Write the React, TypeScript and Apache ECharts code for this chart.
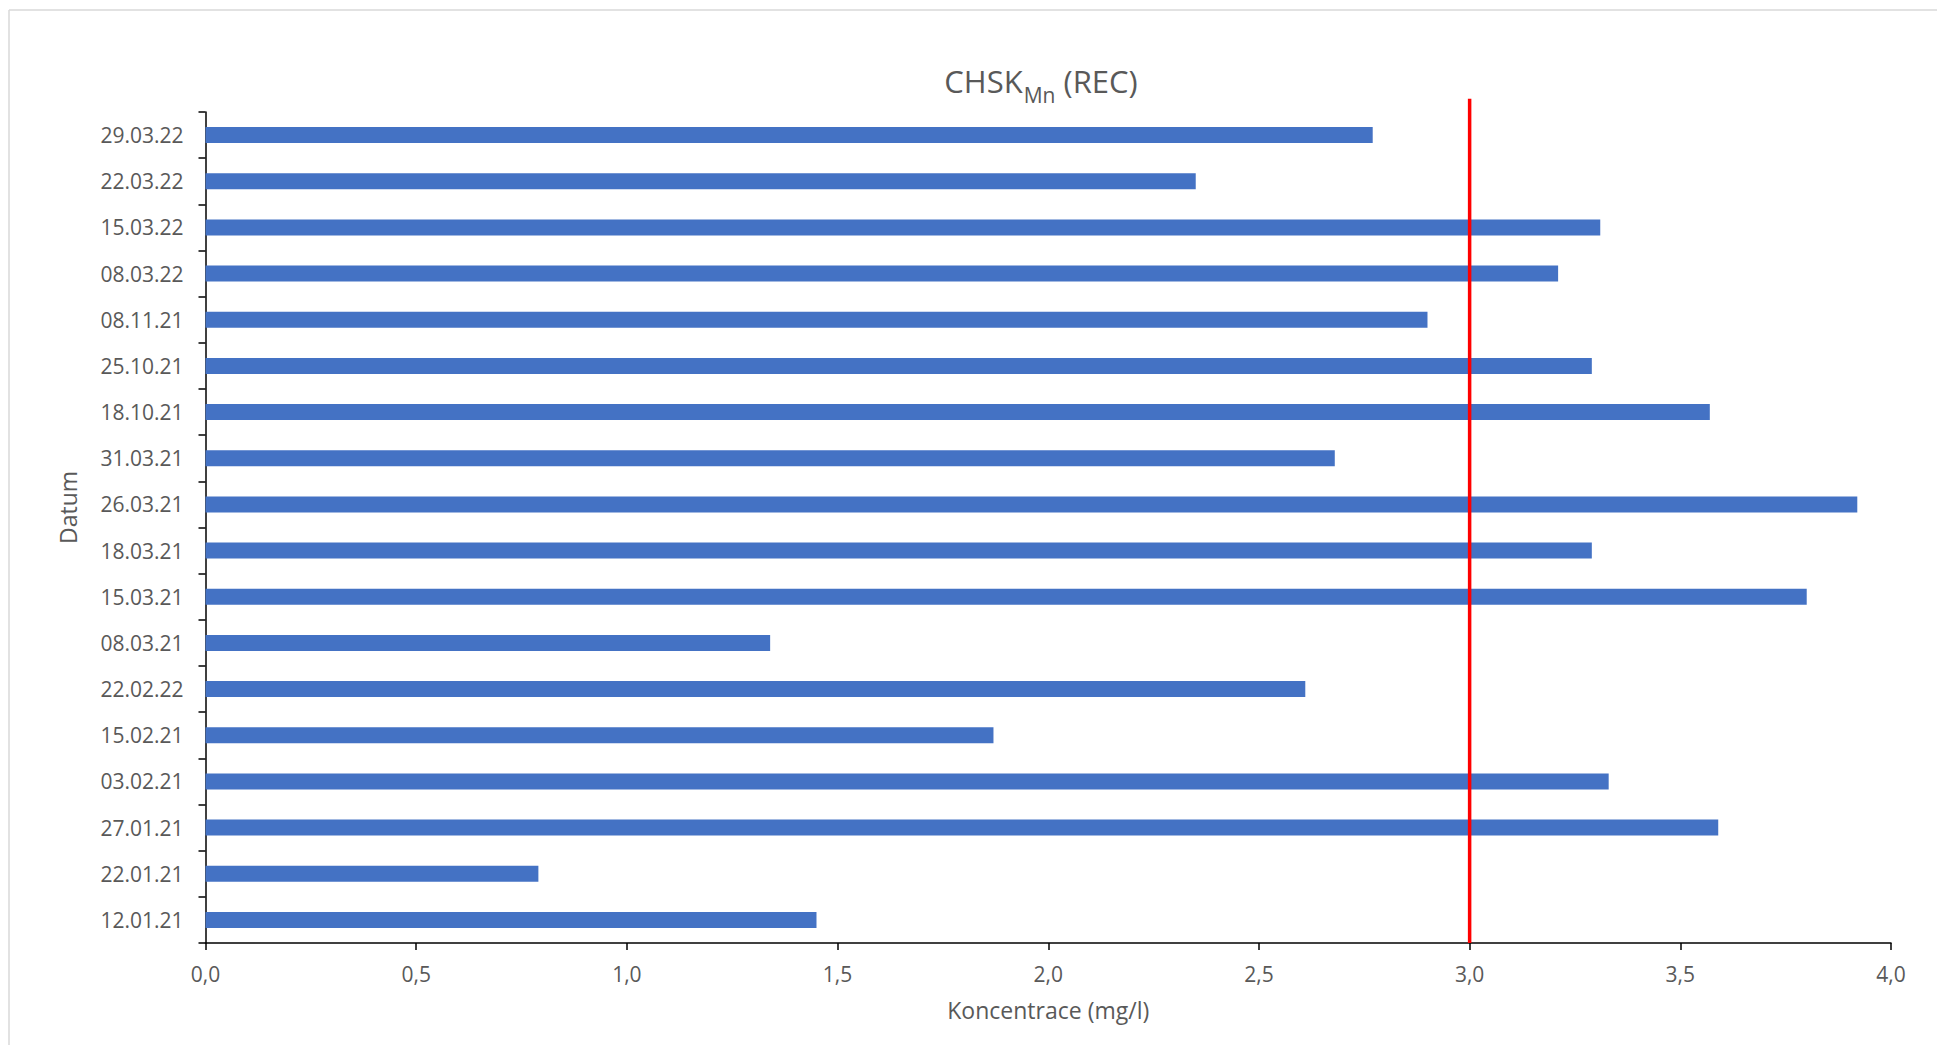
import React, { useEffect, useRef } from "react";
import * as echarts from "echarts";

// Categories listed bottom-to-top (ECharts category y-axis starts at the bottom)
const dates = [
  "12.01.21", "22.01.21", "27.01.21", "03.02.21", "15.02.21", "22.02.22",
  "08.03.21", "15.03.21", "18.03.21", "26.03.21", "31.03.21", "18.10.21",
  "25.10.21", "08.11.21", "08.03.22", "15.03.22", "22.03.22", "29.03.22",
];
const values = [
  1.45, 0.79, 3.59, 3.33, 1.87, 2.61,
  1.34, 3.80, 3.29, 3.92, 2.68, 3.57,
  3.29, 2.90, 3.21, 3.31, 2.35, 2.77,
];
const limitValue = 3.0;
// helper axis extent (0..1 spans the plot height); the limit line runs a bit above the plot
const limitLineSpan = [0, 1.016];

const xMin = 0;
const xMax = 4;
const xInterval = 0.5;

const textColor = "#595959";
const font = "'Open Sans', sans-serif";

export default function App() {
  const ref = useRef<HTMLDivElement>(null);
  useEffect(() => {
    if (!ref.current) return;
    const chart = echarts.init(ref.current, undefined, { renderer: "svg" });
    chart.setOption({
      animation: false,
      backgroundColor: "#ffffff",
      textStyle: { fontFamily: font, color: textColor },
      title: {
        text: "{a|CHSK}{b|Mn}{a| (REC)}",
        left: 1036,
        textAlign: "center",
        top: 56,
        textStyle: {
          fontWeight: "normal",
          rich: {
            a: { fontFamily: font, fontSize: 31, fontWeight: "normal", color: textColor, lineHeight: 40 },
            b: { fontFamily: font, fontSize: 21, fontWeight: "normal", color: textColor, lineHeight: 40, padding: [28, 0, 0, 1] },
          },
        },
      },
      graphic: [
        { type: "line", shape: { x1: 9, y1: 10, x2: 1937, y2: 10 }, style: { stroke: "#d9d9d9", lineWidth: 1.5 } },
        { type: "line", shape: { x1: 9, y1: 10, x2: 9, y2: 1045 }, style: { stroke: "#d9d9d9", lineWidth: 1.5 } },
      ],
      grid: { left: 205.5, right: 46, top: 112, bottom: 102 },
      xAxis: {
        type: "value",
        min: xMin,
        max: xMax,
        interval: xInterval,
        name: "Koncentrace (mg/l)",
        nameLocation: "middle",
        nameGap: 55,
        nameTextStyle: { fontFamily: font, fontSize: 23, color: textColor },
        axisLine: { show: true, lineStyle: { color: "#000000", width: 1.5 } },
        axisTick: { show: true, length: 7, lineStyle: { color: "#000000", width: 1.5 } },
        splitLine: { show: false },
        axisLabel: {
          fontFamily: font,
          fontSize: 21,
          color: textColor,
          margin: 20,
          formatter: (v: number) => v.toFixed(1).replace(".", ","),
        },
      },
      yAxis: [
        {
          type: "category",
          data: dates,
          name: "Datum",
          nameLocation: "middle",
          nameGap: 126,
          nameTextStyle: { fontFamily: font, fontSize: 23, color: textColor, padding: [0, 0, 0, 40] },
          axisLine: { show: true, lineStyle: { color: "#000000", width: 1.5 } },
          axisTick: { show: true, length: 7, lineStyle: { color: "#000000", width: 1.5 } },
          axisLabel: { fontFamily: font, fontSize: 21, color: textColor, margin: 22 },
          splitLine: { show: false },
        },
        {
          type: "value",
          min: 0,
          max: 1,
          show: false,
          position: "right",
        },
      ],
      series: [
        {
          type: "bar",
          data: values,
          barWidth: 16,
          itemStyle: { color: "#4472C4" },
          yAxisIndex: 0,
        },
        {
          type: "line",
          xAxisIndex: 0,
          yAxisIndex: 1,
          data: [
            [limitValue, limitLineSpan[0]],
            [limitValue, limitLineSpan[1]],
          ],
          clip: false,
          symbol: "none",
          lineStyle: { color: "#FF0000", width: 3.5 },
          z: 5,
        },
      ],
    });
    return () => chart.dispose();
  }, []);
  return (
    <div
      ref={ref}
      style={{ position: "absolute", left: 0, top: 0, width: 1937, height: 1045 }}
    />
  );
}
